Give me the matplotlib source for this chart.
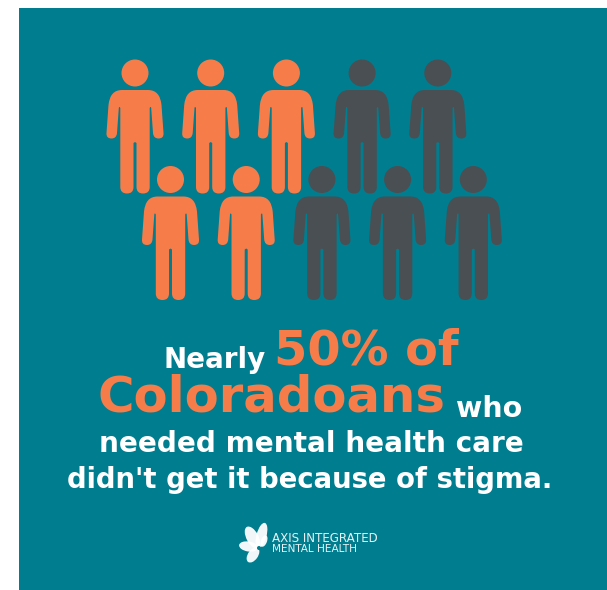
import matplotlib
matplotlib.use('Agg')
import matplotlib.pyplot as plt
from matplotlib.path import Path
from matplotlib.patches import PathPatch, Circle, Rectangle, Ellipse
from matplotlib.transforms import Affine2D

# people per row, and how many of them are highlighted
row_totals = [5, 5]
row_highlighted = [3, 2]

line_1a = "Nearly"
line_1b = "50% of"
line_2a = "Coloradoans"
line_2b = "who"
line_3 = "needed mental health care"
line_4 = "didn't get it because of stigma."
logo_1 = "AXIS INTEGRATED"
logo_2 = "MENTAL HEALTH"

TEAL = '#007d8f'
ORANGE = '#f67c4a'
DARK = '#4a4f53'
WHITE = '#ffffff'

plt.rcParams['font.family'] = ['DejaVu Sans']

fig = plt.figure(figsize=(6.07, 5.90), dpi=100)
ax = fig.add_axes([0, 0, 1, 1])
ax.set_xlim(0, 607)
ax.set_ylim(590, 0)
ax.axis('off')

ax.add_patch(Rectangle((19, 8), 588, 582, color=TEAL, lw=0))


def person_path():
    # right half of the body, measured from the centre of the head
    right = [
        (Path.LINETO, (13, 17)),
        (Path.CURVE3, (25, 17)), (Path.CURVE3, (26.5, 32)),
        (Path.LINETO, (28.5, 60)),
        (Path.CURVE3, (29, 65.5)), (Path.CURVE3, (23.5, 65.5)),
        (Path.CURVE3, (18.5, 65.5)), (Path.CURVE3, (18, 60)),
        (Path.LINETO, (16.2, 35)),
        (Path.CURVE3, (15.8, 32.5)), (Path.CURVE3, (14.7, 35)),
        (Path.LINETO, (14.7, 114)),
        (Path.CURVE3, (14.7, 120.5)), (Path.CURVE3, (8, 120.5)),
        (Path.CURVE3, (1.5, 120.5)), (Path.CURVE3, (1.5, 114)),
        (Path.LINETO, (1.5, 70)),
        (Path.LINETO, (0, 69)),
    ]
    verts = [(0, 17)]
    codes = [Path.MOVETO]
    for c, v in right:
        verts.append(v)
        codes.append(c)
    # mirror for the left side, walking back up
    pts = [(0, 17)] + [v for c, v in right]
    cds = [Path.MOVETO] + [c for c, v in right]
    for i in range(len(pts) - 2, -1, -1):
        x, y = pts[i]
        verts.append((-x, y))
        codes.append(cds[i + 1])
    verts.append((0, 17))
    codes.append(Path.CLOSEPOLY)
    return Path(verts, codes)


body = person_path()


def draw_person(cx, cy, color):
    ax.add_patch(Circle((cx, cy), 13.5, color=color, lw=0))
    ax.add_patch(PathPatch(body, facecolor=color, edgecolor='none', lw=0,
                           transform=Affine2D().translate(cx, cy) + ax.transData))


# two staggered rows of people
row_x0 = [135, 170.5]
row_y = [73, 179.5]
step = 75.7
for r, n in enumerate(row_totals):
    for i in range(n):
        c = ORANGE if i < row_highlighted[r] else DARK
        draw_person(row_x0[r] + i * step, row_y[r], c)

# headline
ax.text(163, 359.5, line_1a, color=WHITE, fontsize=20, fontweight='bold', va='center', ha='left')
ax.text(274, 351, line_1b, color=ORANGE, fontsize=34.5, fontweight='bold', va='center', ha='left')
ax.text(98, 397, line_2a, color=ORANGE, fontsize=35.8, fontweight='bold', va='center', ha='left')
ax.text(456, 409, line_2b, color=WHITE, fontsize=20.5, fontweight='bold', va='center', ha='left')
ax.text(311.5, 444, line_3, color=WHITE, fontsize=20.1, fontweight='bold', va='center', ha='center')
ax.text(310, 480, line_4, color=WHITE, fontsize=19.8, fontweight='bold', va='center', ha='center')

# logo leaves
leaves = [(261.5, 535.5, 10, 26, 15), (252.5, 537.5, 12, 24, -28), (248.5, 546.5, 10, 19, -81),
          (253, 555, 10, 17, 35), (264, 541, 6, 12, 20)]
for x, y, w, h, a in leaves:
    ax.add_patch(Ellipse((x, y), w, h, angle=a, color=WHITE, lw=0, alpha=0.95))
ax.add_patch(Circle((259, 548), 2, color=TEAL, lw=0))

ax.text(272, 538, logo_1, color=WHITE, fontsize=8.6, fontweight='medium', va='center', ha='left', alpha=0.9)
ax.text(272, 548.5, logo_2, color=WHITE, fontsize=7.6, va='center', ha='left', alpha=0.9)

fig.savefig('out.png', dpi=100, facecolor='white')
